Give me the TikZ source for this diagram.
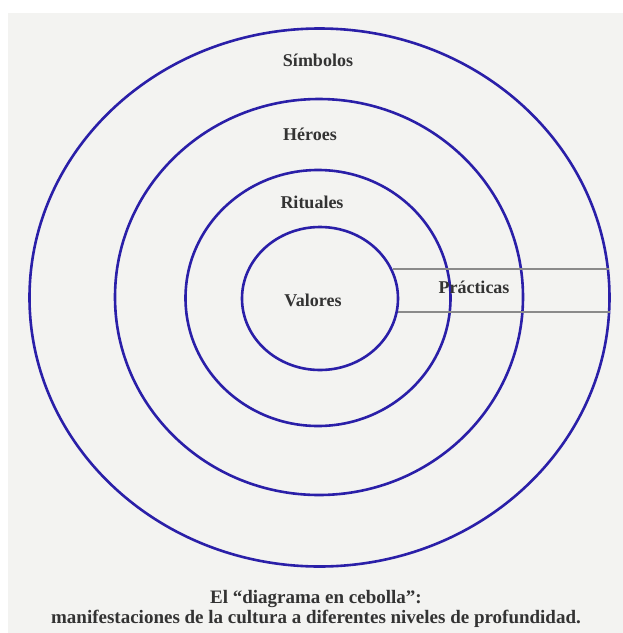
\documentclass[tikz,border=0pt]{standalone}
\usepackage{fontspec}
\setmainfont{Liberation Serif}
\usepackage{xcolor}
\usepackage{tikz}
\usetikzlibrary{shapes.geometric}
\definecolor{capa}{HTML}{2A1FA8}
\definecolor{fondo}{HTML}{F3F3F1}
\definecolor{texto}{HTML}{333333}
\definecolor{banda}{HTML}{8A8A8A}

\begin{document}
\begin{tikzpicture}[x=1pt, y=-1pt,
    capas/.style={draw=capa, line width=2.6pt, ellipse, inner sep=0pt},
    etiqueta/.style={text=texto, font=\fontsize{18}{20}\selectfont\bfseries}]
        % Fondo y margenes
        \fill[white] (0,0) rectangle (623,633);
        \fill[fondo] (8,13) rectangle (623,633);
        \useasboundingbox (0,0) rectangle (623,633);
        % Capas de la cebolla
        \node[capas, minimum width=580pt, minimum height=538pt] (simbolos) at (319.5,297.5) {};
        \node[capas, minimum width=408pt, minimum height=396pt] (heroes) at (319,297) {};
        \node[capas, minimum width=265pt, minimum height=256pt] (rituales) at (318,298) {};
        \node[capas, minimum width=156pt, minimum height=143pt] (valores) at (320,298.5) {};
        % Banda de las practicas
        \draw[banda, line width=1.6pt] (valores.22) -- (valores.22 -| simbolos.6);
        \draw[banda, line width=1.6pt] (valores.-10) -- (valores.-10 -| simbolos.-3);
        % Etiquetas
        \node[etiqueta] (tsimbolos) at (318,60) {Símbolos};
        \node[etiqueta] (theroes) at (310,134) {Héroes};
        \node[etiqueta] (trituales) at (312,202) {Rituales};
        \node[etiqueta] (tvalores) at (313,300) {Valores};
        \node[etiqueta] (tpracticas) at (474,287) {Prácticas};
        % Pie del diagrama
        \node[etiqueta, align=center, font=\fontsize{19}{20}\selectfont\bfseries] (pie) at (316,609)
            {El “diagrama en cebolla”:\\manifestaciones de la cultura a diferentes niveles de profundidad.};
    \end{tikzpicture}
\end{document}
